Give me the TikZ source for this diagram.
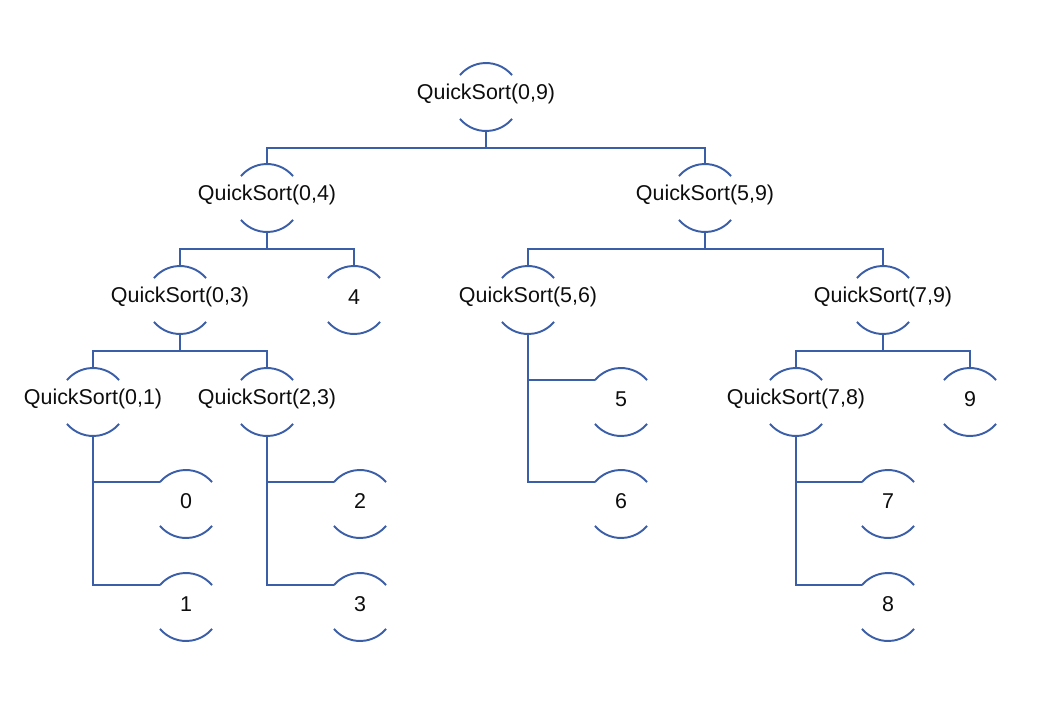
\documentclass[tikz,border=0pt]{standalone}
\usepackage{fontspec}
\setmainfont{Liberation Sans}
\usetikzlibrary{calc}
\definecolor{qsazul}{RGB}{59,94,168}
\definecolor{qstinta}{gray}{0.05}

\begin{document}
\begin{tikzpicture}[x=0.02cm, y=-0.02cm,
    every node/.style={inner sep=0pt, text=qstinta, yshift=0.06cm, font=\fontsize{12.2}{14}\selectfont},
    enlace/.style={draw=qsazul, line width=1.1pt}]
  \useasboundingbox (0,0) rectangle (1042,704);
  % llamadas
  \node (qs09) at (486,97) {QuickSort(0,9)};
  \node (qs04) at (267,198) {QuickSort(0,4)};
  \node (qs59) at (705,198) {QuickSort(5,9)};
  \node (qs03) at (180,300) {QuickSort(0,3)};
  \node (n4) at (354,300) {4};
  \node (qs56) at (528,300) {QuickSort(5,6)};
  \node (qs79) at (883,300) {QuickSort(7,9)};
  \node (qs01) at (93,402) {QuickSort(0,1)};
  \node (qs23) at (267,402) {QuickSort(2,3)};
  \node (n5) at (621,402) {5};
  \node (qs78) at (796,402) {QuickSort(7,8)};
  \node (n9) at (970,402) {9};
  \node (n0) at (186,504) {0};
  \node (n2) at (360,504) {2};
  \node (n6) at (621,504) {6};
  \node (n7) at (888,504) {7};
  \node (n1) at (186,607) {1};
  \node (n3) at (360,607) {3};
  \node (n8) at (888,607) {8};
  % arcos
  \foreach \n in {qs09,qs04,qs59,qs03,n4,qs56,qs79,qs01,qs23,n5,qs78,n9,n0,n2,n6,n7,n1,n3,n8}
    \draw[enlace] ([shift={(40:0.68cm)},yshift=-0.06cm]\n.center) arc (40:140:0.68cm)
                  ([shift={(220:0.68cm)},yshift=-0.06cm]\n.center) arc (220:320:0.68cm);
  % llamadas recursivas
  \foreach \p/\a/\b in {qs09/qs04/qs59, qs04/qs03/n4, qs59/qs56/qs79, qs03/qs01/qs23, qs79/qs78/n9} {
    \draw[enlace] ([yshift=-0.74cm]\p.center) -- ++(0,17) -| ([yshift=0.62cm]\a.center);
    \draw[enlace] ([yshift=-0.74cm]\p.center) -- ++(0,17) -| ([yshift=0.62cm]\b.center);
  }
  % casos base
  \foreach \p/\a/\b in {qs01/n0/n1, qs23/n2/n3, qs56/n5/n6, qs78/n7/n8} {
    \draw[enlace] ([yshift=-0.74cm]\p.center) |- ([shift={(140:0.68cm)},yshift=-0.06cm]\a.center);
    \draw[enlace] ([yshift=-0.74cm]\p.center) |- ([shift={(140:0.68cm)},yshift=-0.06cm]\b.center);
  }
\end{tikzpicture}
\end{document}
